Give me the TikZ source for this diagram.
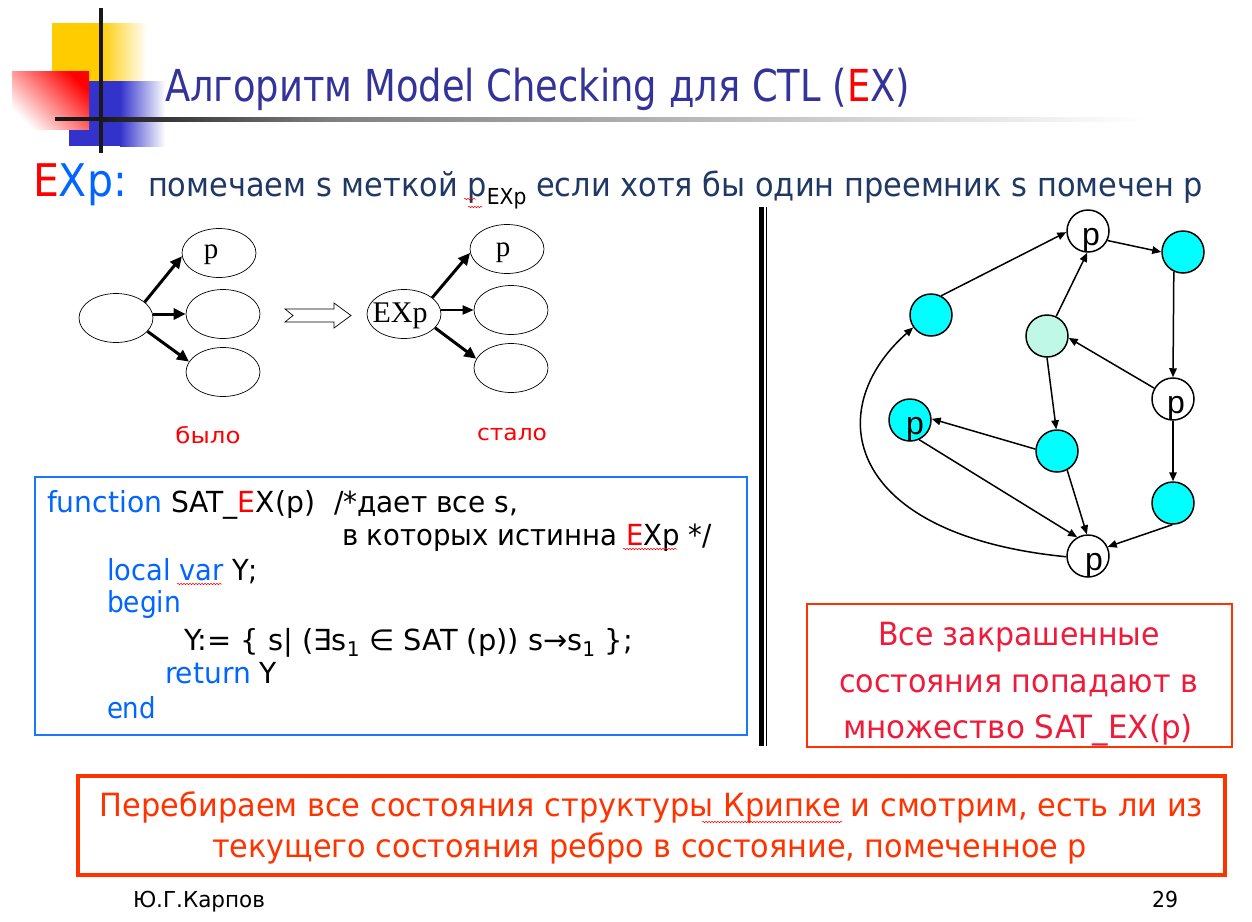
\documentclass[tikz,border=0pt]{standalone}
\usepackage{fontspec}
\usepackage{graphicx}
\setmainfont{DejaVu Sans}
\newfontfamily\arialf{Liberation Sans}
\newfontfamily\timesf{Liberation Serif}
\usetikzlibrary{arrows.meta,shapes.geometric,decorations.pathmorphing}

\definecolor{titleblue}{HTML}{333399}
\definecolor{kwblue}{HTML}{0066FF}
\definecolor{navy}{HTML}{1F3864}
\definecolor{stcyan}{HTML}{00FFFF}
\definecolor{mint}{HTML}{C0F8E8}
\definecolor{frameorange}{HTML}{FF3300}
\definecolor{notered}{HTML}{EE1C3A}
\definecolor{codeframe}{HTML}{1A75FF}
\definecolor{decoyellow}{HTML}{FFCC00}
\definecolor{decoblue}{HTML}{3333CC}

% set text to a given width, keeping its natural height
\newcommand\fitw[2]{\resizebox{#1}{\height}{#2}}
\newcommand\fs[1]{\fontsize{#1}{#1}\selectfont}

\begin{document}
\begin{tikzpicture}[x=1pt,y=-1pt,
  txt/.style={inner sep=0pt, outer sep=0pt, anchor=base west},
  ctxt/.style={inner sep=0pt, outer sep=0pt, anchor=base},
  state/.style={circle, draw, line width=1.5pt, minimum size=42pt, inner sep=0pt},
  plab/.style={inner sep=0pt, anchor=base, font=\arialf\fs{32}},
  edge/.style={line width=1.5pt, -{Triangle[length=9pt,width=7.5pt]}},
  oval/.style={ellipse, draw, line width=0.7pt, minimum width=74pt, minimum height=49pt, inner sep=0pt},
  boldarrow/.style={line width=3pt, -{Triangle[length=12pt,width=11pt]}},
  squig/.style={draw=red, line width=0.5pt, decorate, decoration={snake, amplitude=0.8pt, segment length=3pt}}
]
\useasboundingbox (0,0) rectangle (1252,921);
\fill[white] (0,0) rectangle (1252,921);

% corner ornament
\fill[decoyellow] (52,23) rectangle (100,81);
\shade[left color=decoyellow, right color=white] (100,23) rectangle (147,81);
\fill[decoblue] (69,81) rectangle (120,146);
\shade[left color=decoblue, right color=white] (120,81) rectangle (165,146);
\shade[top color=red, bottom color=white, shading angle=-45] (12,71) rectangle (89,129);
\fill[black!90] (55,117) rectangle (100,121);
\shade[left color=black!90, right color=black!50] (100,117) rectangle (330,121);
\shade[left color=black!50, right color=white] (330,117) rectangle (1145,121);
\fill[black!90] (99,8) rectangle (103,153);

% title
\node[txt, text=titleblue] (title) at (165,101)
  {\fitw{745pt}{\fs{44}Алгоритм Model Checking для CTL (\textcolor{red}{E}X)}};

% rule line
\node[txt] (exp) at (33,196) {\fitw{94pt}{\fs{45}\textcolor{red}{E}\textcolor{kwblue}{Xp:}}};
\node[txt, text=navy] (rule) at (148,196)
  {\fitw{1055pt}{\fs{33}помечаем s меткой p\raisebox{-8pt}{\color{black}\fs{22}EXp} если хотя бы один преемник s помечен p}};
\draw[squig] (464,199) -- (476,199);
\draw[squig] (468,207) -- (482,207);

% before: state with successors
\node[oval] (src) at (116,318) {};
\node[oval] (sp) at (219,253) {};
\node[oval] (sm) at (223,314) {};
\node[oval] (sb) at (223,372) {};
\node[ctxt, font=\timesf\fs{29}] (splab) at (211,258) {p};
\draw[boldarrow] (src.29) -- (sp.185);
\draw[boldarrow] (src.east |- sm.west) -- (sm.west);
\draw[boldarrow] (src.-23) -- (sb.163);
\node[ctxt, text=red] (was) at (208,443) {\fitw{65pt}{\fs{22}было}};

% hollow arrow
\draw[line width=0.7pt, fill=white] (285,309) -- (334,309) -- (334,303) -- (351,315.5)
  -- (334,328) -- (334,322) -- (285,322) -- (293,315.5) -- cycle;

% after: state labelled EXp
\node[oval] (dst) at (404,314) {};
\node[oval] (dp) at (507,249) {};
\node[oval] (dm) at (511,310) {};
\node[oval] (db) at (511,368) {};
\node[ctxt, font=\timesf\fs{30}] (dstlab) at (400,322) {EXp};
\node[ctxt, font=\timesf\fs{29}] (dplab) at (503,256) {p};
\draw[boldarrow] (dst.30) -- (dp.186);
\draw[line width=2pt, -{Triangle[length=11pt,width=9pt]}] (dm.west -| dst.east) -- (dm.west);
\draw[boldarrow] (dst.-24) -- (db.165);
\node[ctxt, text=red] (now) at (512,440) {\fitw{70pt}{\fs{22}стало}};

% separator
\fill[black] (759,207) rectangle (764,746);
\fill[black] (765.5,207) rectangle (767,746);

% pseudo-code
\draw[codeframe, line width=2.5pt] (35,477) rectangle (747,735);
\node[txt] (c1) at (47,512) {\fitw{268pt}{\fs{29}\textcolor{kwblue}{function} SAT\_\textcolor{red}{E}X(p)}};
\node[txt] (c1b) at (334,512) {\fitw{184pt}{\fs{29}/*дает все s,}};
\node[txt] (c2) at (342,545) {\fitw{370pt}{\fs{29}в которых истинна \textcolor{red}{E}Xp */}};
\node[txt] (c3) at (107,580) {\fitw{151pt}{\fs{29}\textcolor{kwblue}{local var} Y;}};
\node[txt] (c4) at (107,612) {\fitw{74pt}{\fs{29}\textcolor{kwblue}{begin}}};
\node[txt] (c5) at (184,650) {\fitw{449pt}{\fs{29}Y:= \{ s| (∃s\textsubscript{1} ∈ SAT (p)) s→s\textsubscript{1} \};}};
\node[txt] (c6) at (165,683) {\fitw{112pt}{\fs{29}\textcolor{kwblue}{return} Y}};
\node[txt] (c7) at (107,718) {\fitw{49pt}{\fs{29}\textcolor{kwblue}{end}}};
\draw[squig] (177,584) -- (222,584);
\draw[squig] (623,549) -- (677,549);

% Kripke structure
\node[state] (tp) at (1088,231) {};
\node[state, fill=stcyan] (tr) at (1183,252) {};
\node[state, fill=stcyan] (lc) at (931,315) {};
\node[state, fill=mint] (md) at (1047,336) {};
\node[state] (rp) at (1173,399) {};
\node[state, fill=stcyan] (lp) at (910,420) {};
\node[state, fill=stcyan] (cc) at (1057,451) {};
\node[state, fill=stcyan] (lr) at (1173,503) {};
\node[state] (bp) at (1088,556) {};
\node[plab] (tplab) at (1091,245) {p};
\node[plab] (rplab) at (1176,413) {p};
\node[plab] (lplab) at (915,434) {p};
\node[plab] (bplab) at (1094,570) {p};

\draw[edge] (lc.62) -- (tp.183);
\draw[edge] (tp.334) -- (tr.180);
\draw[edge] (tr.245) -- (rp.north);
\draw[edge] (rp.150) -- (md.355);
\draw[edge] (md.65) -- (tp.268);
\draw[edge] (md.270) -- (cc.92);
\draw[edge] (cc.175) -- (lp.3);
\draw[edge] (lp.295) -- (bp.120);
\draw[edge] (cc.298) -- (bp.93);
\draw[edge] (rp.south) -- (lr.north);
\draw[edge] (lr.268) -- (bp.25);
\draw[edge] (bp.182) .. controls (845,535) and (820,410) .. (lc.215);

% note on shaded states
\node[draw=frameorange, line width=2.5pt, minimum width=425pt, minimum height=143pt, inner sep=0pt] (note) at (1019.5,675.5) {};
\node[ctxt, text=notered] (n1) at (1019,645) {\fitw{282pt}{\fs{32}Все закрашенные}};
\node[ctxt, text=notered] (n2) at (1018.5,692) {\fitw{359pt}{\fs{32}состояния попадают в}};
\node[ctxt, text=notered] (n3) at (1018,738) {\fitw{350pt}{\fs{32}множество SAT\_EX(p)}};

% summary
\node[draw=frameorange, line width=4pt, minimum width=1147pt, minimum height=99pt, inner sep=0pt] (summary) at (651.5,825.5) {};
\node[ctxt, text=frameorange] (s1) at (651.5,816) {\fitw{1103pt}{\fs{32}Перебираем все состояния структуры Крипке и смотрим, есть ли из}};
\node[ctxt, text=frameorange] (s2) at (649.5,857) {\fitw{875pt}{\fs{32}текущего состояния ребро в состояние, помеченное p}};
\draw[squig] (702,822) -- (842,822);

% footer
\node[txt] (author) at (133,907) {\fitw{132pt}{\fs{22}Ю.Г.Карпов}};
\node[txt, anchor=base east] (page) at (1178,907) {\fitw{26pt}{\fs{22}29}};
\end{tikzpicture}
\end{document}
